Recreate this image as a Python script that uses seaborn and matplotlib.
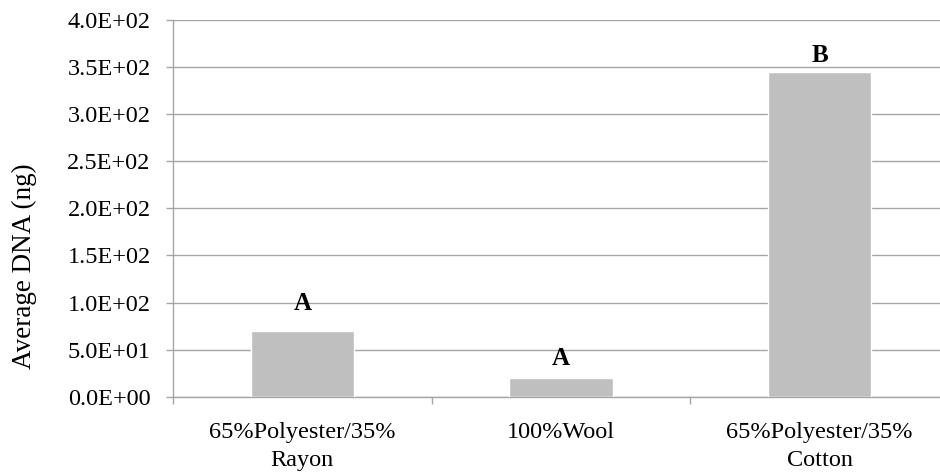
import matplotlib
matplotlib.use("Agg")
import matplotlib.pyplot as plt
from matplotlib.ticker import FuncFormatter, FixedLocator
import seaborn as sns
import pandas as pd

# Fabric types and mean DNA recovered
fabrics = ["65%Polyester/35%\nRayon", "100%Wool", "65%Polyester/35%\nCotton"]
avg_dna_ng = [70, 20, 345]
group_letters = ["A", "A", "B"]

# distance (px) from bar top to the letter baseline
letter_offsets = [21, 13, 10]

df = pd.DataFrame({"Fabric": fabrics, "DNA": avg_dna_ng})

sns.set_theme(style="white")
plt.rcParams["font.family"] = ["Liberation Serif", "DejaVu Serif"]

fig = plt.figure(figsize=(9.4, 4.75), dpi=100)
ax = fig.add_axes([0.1840, 0.1648, 0.8256, 0.7931])

sns.barplot(data=df, x="Fabric", y="DNA", color="#BFBFBF", width=0.4,
            saturation=1, ax=ax, zorder=3)

grid_col = "#A6A6A6"
fs = 17.5
ax.set_ylim(0, 400)
ax.set_xlim(-0.5, 2.5)
ax.set_yticks(range(0, 401, 50))
ax.yaxis.set_major_formatter(FuncFormatter(lambda v, p: f"{v:.1E}"))
ax.grid(axis="y", color=grid_col, linewidth=1.0, zorder=0)
ax.set_axisbelow(True)

for side in ["top", "right"]:
    ax.spines[side].set_visible(False)
for side in ["left", "bottom"]:
    ax.spines[side].set_color(grid_col)
    ax.spines[side].set_linewidth(1.0)

ax.tick_params(axis="y", which="major", direction="out", length=5, width=1,
               color=grid_col, pad=11, labelsize=fs, labelcolor="black", left=True)
ax.tick_params(axis="x", which="major", length=0, pad=18, labelsize=fs,
               labelcolor="black")
ax.xaxis.set_minor_locator(FixedLocator([-0.5, 0.5, 1.5, 2.5]))
ax.tick_params(axis="x", which="minor", direction="out", length=5, width=1,
               color=grid_col, bottom=True)
for lbl in ax.get_xticklabels():
    lbl.set_linespacing(1.45)

ax.set_xlabel("")
ax.set_ylabel("Average DNA (ng)", fontsize=19.5, color="black")
ax.yaxis.set_label_coords(-0.175, 0.347)

for i, (v, letter, off) in enumerate(zip(avg_dna_ng, group_letters, letter_offsets)):
    ax.annotate(letter, xy=(i, v), xytext=(0, off * 72 / 100),
                textcoords="offset points", ha="center", va="baseline",
                fontsize=18, fontweight="bold", color="black")

fig.savefig("out.png", dpi=100)
